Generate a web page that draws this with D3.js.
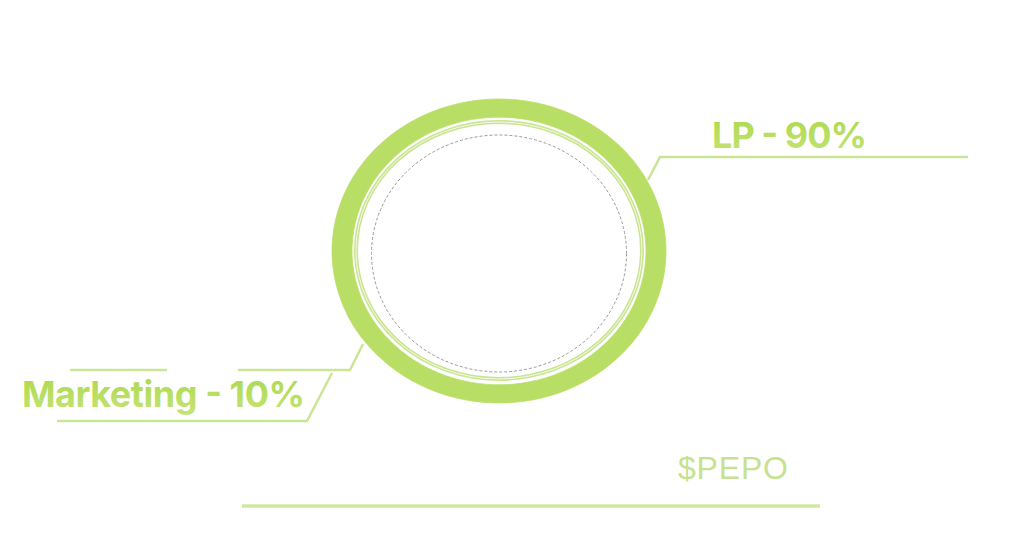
<!DOCTYPE html>
<html>
<head>
<meta charset="utf-8">
<script src="https://cdn.jsdelivr.net/npm/d3@7"></script>
<style>
  html, body { margin: 0; padding: 0; background: #ffffff; }
  svg { display: block; }
</style>
</head>
<body>
<svg id="chart" width="1018" height="552"></svg>
<script>
// ---- data ----
const categories = ["LP", "Marketing"];
const values = [90, 10];
const labels = ["LP - 90%", "Marketing - 10%"];
const tokenName = ["$PEPO"];

// ---- layout ----
const W = 1018, H = 552;
const cx = 499, cy = 251;
const rOuter = 167, rInner = 147;
const yScale = 152 / 167;

const svg = d3.select("#chart");
const defs = svg.append("defs");
const grad = defs.append("linearGradient")
  .attr("id", "txtGrad").attr("x1", 0).attr("y1", 0).attr("x2", 0).attr("y2", 1);
grad.append("stop").attr("offset", "0%").attr("stop-color", "#abd84b");
grad.append("stop").attr("offset", "100%").attr("stop-color", "#c4e478");

const color = d3.scaleOrdinal().domain(categories).range(["#b9de65", "#b9de65"]);

const pie = d3.pie().sort(null).startAngle(-102 * Math.PI / 180).endAngle(258 * Math.PI / 180);
const arcs = pie(values);
const arc = d3.arc().innerRadius(rInner).outerRadius(rOuter);

const g = svg.append("g").attr("transform", `translate(${cx},${cy}) scale(1,${yScale})`);
g.selectAll("path.slice").data(arcs).enter().append("path")
  .attr("class", "slice")
  .attr("d", arc)
  .attr("fill", (d, i) => color(categories[i]))
  .attr("stroke", (d, i) => color(categories[i]))
  .attr("stroke-width", 0.8);

// inner thin double ring
svg.append("ellipse").attr("cx", cx).attr("cy", 250.5).attr("rx", 143).attr("ry", 128.5)
  .attr("fill", "none").attr("stroke", "#c9e58f").attr("stroke-width", 4);
svg.append("ellipse").attr("cx", cx).attr("cy", 250.5).attr("rx", 143).attr("ry", 128.5)
  .attr("fill", "none").attr("stroke", "#f4faea").attr("stroke-width", 1);

// dashed inner ellipse
svg.append("ellipse").attr("cx", cx).attr("cy", 253.5).attr("rx", 127.5).attr("ry", 118.5)
  .attr("fill", "none").attr("stroke", "#9a9a9a").attr("stroke-width", 1)
  .attr("stroke-dasharray", "3,2");

// ---- leader lines ----
const lineColor = "#cbe596";
const line = d3.line();
const leaders = [
  [[648, 180], [660, 157], [968, 157]],
  [[363, 344], [350, 370], [238, 370]],
  [[70, 370], [167, 370]],
  [[332, 373], [307, 421], [57, 421]]
];
svg.selectAll("path.leader").data(leaders).enter().append("path")
  .attr("class", "leader")
  .attr("d", d => line(d))
  .attr("fill", "none")
  .attr("stroke", lineColor)
  .attr("stroke-width", 2.5)
  .attr("stroke-linejoin", "miter");

// ---- labels ----
const labelPos = [
  { x: 712, y: 148, w: 155 },
  { x: 22, y: 407, w: 283 }
];
svg.selectAll("text.lbl").data(labels).enter().append("text")
  .attr("class", "lbl")
  .attr("x", (d, i) => labelPos[i].x)
  .attr("y", (d, i) => labelPos[i].y)
  .attr("textLength", (d, i) => labelPos[i].w)
  .attr("font-family", "Inter, 'Liberation Sans', sans-serif")
  .attr("font-weight", 700)
  .attr("font-size", 36)
  .attr("fill", "url(#txtGrad)")
  .text(d => d);

// ---- token name & base line ----
svg.append("text")
  .attr("x", 678).attr("y", 479)
  .attr("textLength", 110)
  .attr("font-family", "'Liberation Sans', Arial, sans-serif")
  .attr("font-size", 32)
  .attr("fill", "#c6e291")
  .text(tokenName[0]);

svg.append("line")
  .attr("x1", 242).attr("x2", 820).attr("y1", 506).attr("y2", 506)
  .attr("stroke", "#d0e7a2").attr("stroke-width", 3.5);
</script>
</body>
</html>
